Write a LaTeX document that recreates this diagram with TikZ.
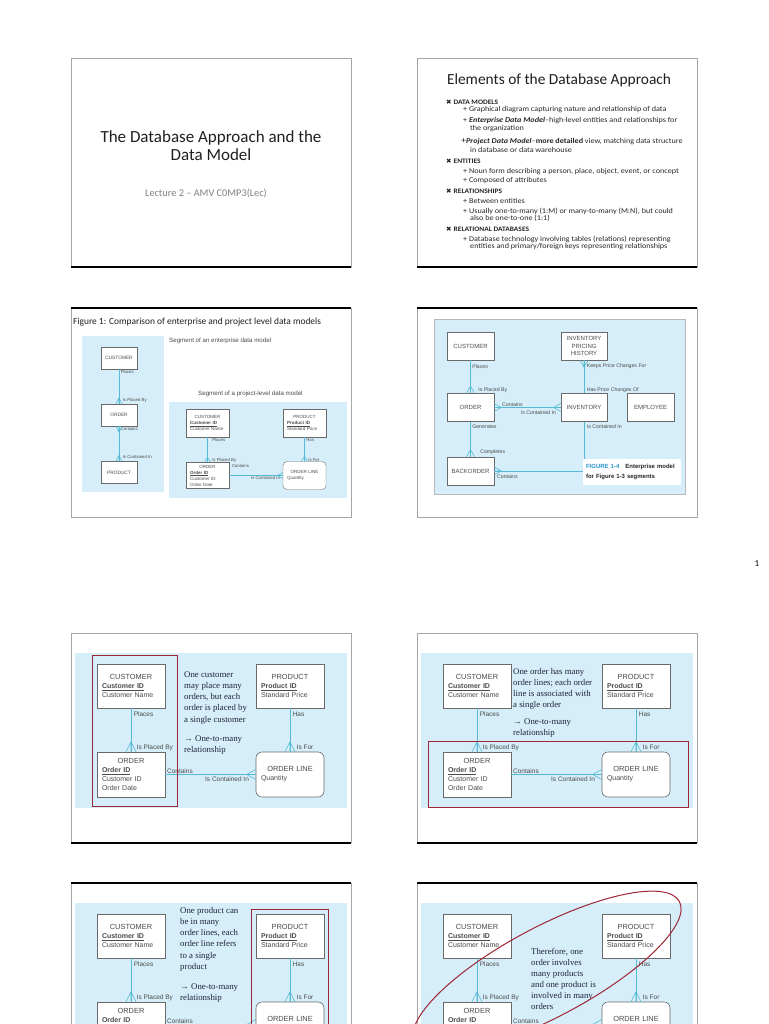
\documentclass[tikz,border=0pt]{standalone}
\usepackage{fontspec}
\setmainfont{Carlito}
\newfontfamily\arialfont{Liberation Sans}
\newfontfamily\timesfont{Liberation Serif}
\newfontfamily\dejavu{DejaVu Sans}
\newfontfamily\widecalibri[FakeStretch=1.1]{Carlito}
\usetikzlibrary{positioning, calc}

\definecolor{panelblue}{RGB}{214,238,249}
\definecolor{linecyan}{RGB}{86,186,212}
\definecolor{boxgray}{RGB}{105,105,105}
\definecolor{txtgray}{RGB}{75,75,75}
\definecolor{hired}{RGB}{158,38,52}
\definecolor{notenavy}{RGB}{30,34,60}
\definecolor{figblue}{RGB}{40,150,210}

\newcommand{\fsz}[2]{\fontsize{#1}{#2}\selectfont}
\newcommand{\ctr}[2]{\makebox[#1][c]{#2}}
\newcommand{\keyattr}[1]{\underline{\textbf{#1}}}
% crow's foot on a top/bottom edge and on a left/right edge
\newcommand{\crowv}[3]{\draw[rel] ([yshift=#2]#1) -- ([xshift=#3]#1) ([yshift=#2]#1) -- (#1) ([yshift=#2]#1) -- ([xshift=-#3]#1);}
\newcommand{\crowh}[3]{\draw[rel] ([xshift=#2]#1) -- ([yshift=#3]#1) ([xshift=#2]#1) -- (#1) ([xshift=#2]#1) -- ([yshift=-#3]#1);}

\tikzset{
  slide/.style={draw=gray!70, line width=0.9pt, fill=white},
  shadowline/.style={draw=black, line width=1.6pt},
  rel/.style={draw=linecyan, line width=0.6pt},
  erbox/.style={draw=boxgray, fill=white, line width=0.6pt, inner sep=0pt, text=txtgray},
  ent/.style={erbox, minimum width=68pt, minimum height=44pt, text width=58pt, align=left, font=\arialfont\fsz{7}{9}},
  ent3/.style={erbox, line width=0.4pt, minimum width=43pt, minimum height=28pt, text width=35pt, align=left, font=\arialfont\fsz{4.5}{6}},
  box3/.style={erbox, line width=0.4pt, minimum width=36pt, minimum height=22pt, font=\arialfont\fsz{4.8}{6}},
  box4/.style={erbox, minimum width=47pt, minimum height=28pt, align=center, font=\arialfont\fsz{6}{7.5}},
  lbl/.style={inner sep=0.5pt, text=txtgray, font=\arialfont\fsz{6.5}{7.5}},
  lbl3/.style={lbl, font=\arialfont\fsz{4.3}{5}},
  lbl4/.style={lbl, font=\arialfont\fsz{5.2}{6}},
  note/.style={anchor=north west, inner sep=0pt, align=left, text=notenavy, font=\timesfont\fsz{8.8}{11.3}},
  hilite/.style={draw=hired, line width=1pt},
  bodyline/.style={anchor=west, inner sep=0pt, text=black!85, font=\widecalibri\fsz{7.4}{8}},
  headline/.style={bodyline, font=\widecalibri\bfseries\fsz{6.8}{8}},
}

% the order entry diagram shared by the last four slides
\newcommand{\orderdiagram}[1]{%
  \fill[panelblue] (4,20) rectangle (276,175);
  \node[ent] (cust#1) at (60,53) {\ctr{58pt}{\fsz{7.4}{9}CUSTOMER}\\\keyattr{Customer ID}\\Customer Name};
  \node[ent] (prod#1) at (219,53) {\ctr{58pt}{\fsz{7.4}{9}PRODUCT}\\\keyattr{Product ID}\\Standard Price};
  \node[ent, minimum height=45pt] (ord#1) at (60,141.5) {\ctr{58pt}{\fsz{7.4}{9}ORDER}\\\keyattr{Order ID}\\Customer ID\\Order Date};
  \node[ent, minimum height=45pt, rounded corners=6pt] (line#1) at (219,141.5) {\ctr{58pt}{\fsz{7.4}{9}ORDER LINE}\\Quantity};
  \draw[rel] (cust#1) -- (ord#1) node[lbl, pos=0.14, right=2pt] (plc#1) {Places} node[lbl, pos=0.9, right=5pt] (ipb#1) {Is Placed By};
  \draw[rel] (prod#1) -- (line#1) node[lbl, pos=0.14, right=2pt] (has#1) {Has} node[lbl, pos=0.9, right=6pt] (isf#1) {Is For};
  \draw[rel] (ord#1) -- (line#1) node[lbl, pos=0, anchor=south west, xshift=1pt] (cnt#1) {Contains} node[lbl, pos=1, anchor=north east, xshift=-6pt, yshift=-1pt] (icn#1) {Is Contained In};
  \crowv{ord#1.north}{10pt}{5pt}
  \crowv{line#1.north}{10pt}{5pt}
  \crowh{line#1.west}{-9pt}{5pt}
}

\begin{document}
\begin{tikzpicture}[x=1pt, y=-1pt]
\path[use as bounding box] (0,0) rectangle (768,1024);
\clip (0,0) rectangle (768,1024);
\fill[white] (0,0) rectangle (768,1024);

% slide frames
\foreach \sx in {71,417}
  \foreach \sy in {58,308,633,883}
    \draw[slide] (\sx,\sy) rectangle ++(280,209);
\foreach \sx in {71,417} {
  \draw[shadowline] (\sx,267) -- ++(280,0);
  \draw[shadowline] (\sx,308) -- ++(280,0);
  \draw[shadowline] (\sx,843) -- ++(280,0);
  \draw[shadowline] (\sx,883) -- ++(280,0);
}
\node[font=\fsz{9}{10}] (pagenum) at (757,564) {1};

% slide 1
\node[align=center, text=black!88, font=\fsz{17}{18}] (ttl1) at (211,146) {The Database Approach and the\\Data Model};
\node[text=gray, font=\fsz{10.3}{12}] (sub1) at (206,193) {Lecture 2 – AMV C0MP3(Lec)};

% slide 2
\node[text=black!88, font=\fsz{15.4}{16}] (ttl2) at (559,80) {Elements of the Database Approach};
\foreach \yy/\txt [count=\i] in {102/DATA MODELS, 161/ENTITIES, 191/RELATIONSHIPS, 229/RELATIONAL DATABASES}
  \node[headline] (hd\i) at (446,\yy) {{\dejavu\fsz{6.5}{7}✖}\hspace{2pt}\txt};
\foreach \xx/\yy/\txt [count=\i] in {
  463/110/{+ Graphical diagram capturing nature and relationship of data},
  463/121/{+ \textbf{\textit{Enterprise Data Model}}–high-level entities and relationships for},
  470/129/{the organization},
  461/142/{{\fsz{9}{9}+}\textbf{\textit{Project Data Model}}–\textbf{more detailed} view, matching data structure},
  470/150/{in database or data warehouse},
  463/172/{+ Noun form describing a person, place, object, event, or concept},
  463/181/{+ Composed of attributes},
  463/201/{+ Between entities},
  463/211/{+ Usually one-to-many (1:M) or many-to-many (M:N), but could},
  470/218/{also be one-to-one (1:1)},
  463/239/{+ Database technology involving tables (relations) representing},
  470/247/{entities and primary/foreign keys representing relationships}}
  \node[bodyline] (it\i) at (\xx,\yy) {\txt};

% slide 3
\node[anchor=west, inner sep=0pt, text=black!88, font=\fsz{9.4}{10}] (ttl3) at (73,322) {Figure 1: Comparison of enterprise and project level data models};
\fill[panelblue] (82,336) rectangle (164,492);
\node[box3] (cust3a) at (119,358) {CUSTOMER};
\node[box3] (ord3a) at (119,415) {ORDER};
\node[box3] (prod3a) at (119,472.5) {PRODUCT};
\draw[rel] (cust3a) -- (ord3a) node[lbl3, pos=0.09, right=1pt] (plc3a) {Places} node[lbl3, pos=0.91, right=3pt] (ipb3a) {Is Placed By};
\draw[rel] (ord3a) -- (prod3a) node[lbl3, pos=0.08, right=1pt] (cnt3a) {Contains} node[lbl3, pos=0.89, right=3pt] (icn3a) {Is Contained In};
\crowv{ord3a.north}{6pt}{3pt}
\crowv{ord3a.south}{-6pt}{3pt}
\crowv{prod3a.north}{6pt}{3pt}
\node[anchor=west, inner sep=0pt, text=txtgray, font=\arialfont\fsz{6.2}{7}] (seg3a) at (169,341) {Segment of an enterprise data model};
\node[anchor=west, inner sep=0pt, text=txtgray, font=\arialfont\fsz{6.2}{7}] (seg3b) at (198,394) {Segment of a project-level data model};
\fill[panelblue] (169,402) rectangle (347,498);
\node[ent3] (cust3b) at (207.5,423) {\ctr{35pt}{CUSTOMER}\\\keyattr{Customer ID}\\Customer Name};
\node[ent3] (prod3b) at (304.5,423) {\ctr{35pt}{PRODUCT}\\\keyattr{Product ID}\\Standard Price};
\node[ent3, minimum height=26pt] (ord3b) at (207.5,475.5) {\ctr{35pt}{ORDER}\\\keyattr{Order ID}\\Customer ID\\Order Date};
\node[ent3, rounded corners=4pt] (line3b) at (304.5,475.5) {\ctr{35pt}{ORDER LINE}\\Quantity};
\draw[rel] (cust3b) -- (ord3b) node[lbl3, pos=0.12, right=4pt] (plc3b) {Places} node[lbl3, pos=0.94, right=4pt] (ipb3b) {Is Placed By};
\draw[rel] (prod3b) -- (line3b) node[lbl3, pos=0.12, right=1pt] (has3b) {Has} node[lbl3, pos=0.94, right=3pt] (isf3b) {Is For};
\draw[rel] (ord3b) -- (line3b) node[lbl3, pos=0, anchor=south west, xshift=2pt, yshift=7pt] (cnt3b) {Contains} node[lbl3, pos=1, anchor=north east, xshift=-2pt] (icn3b) {Is Contained In};
\crowv{ord3b.north}{5pt}{3pt}
\crowv{line3b.north}{5pt}{3pt}
\crowh{line3b.west}{-5pt}{3pt}

% slide 4
\draw[fill=panelblue, draw=gray!55, line width=0.8pt] (434,319) rectangle (685,494);
\node[box4] (cust4) at (470.5,346) {CUSTOMER};
\node[box4, minimum width=46pt] (iph4) at (584,346) {INVENTORY\\PRICING\\HISTORY};
\node[box4] (ord4) at (470.5,407.5) {ORDER};
\node[box4, minimum width=46pt] (inv4) at (584,407.5) {INVENTORY};
\node[box4] (emp4) at (650.5,407.5) {EMPLOYEE};
\node[box4] (back4) at (470.5,471) {BACKORDER};
\draw[rel] (cust4) -- (ord4) node[lbl4, pos=0.18, right=1pt] (plc4) {Places} node[lbl4, pos=0.91, right=7pt] (ipb4) {Is Placed By};
\draw[rel] (ord4) -- (inv4) node[lbl4, pos=0, anchor=south west, xshift=7pt] (cnt4) {Contains} node[lbl4, pos=1, anchor=north east, xshift=-4pt, yshift=-2pt] (icn4) {Is Contained In};
\draw[rel] (ord4) -- (back4) node[lbl4, pos=0.14, right=1pt] (gen4) {Generates} node[lbl4, pos=0.86, right=9pt] (cmp4) {Completes};
\draw[rel] (inv4) -- (iph4) node[lbl4, pos=0.09, right=2pt] (hpc4) {Has Price Changes Of} node[lbl4, pos=0.82, right=2pt] (kpc4) {Keeps Price Changes For};
\draw[rel] (inv4.south) |- (back4.east) node[lbl4, pos=0.05, right=2pt] (icb4) {Is Contained In} node[lbl4, pos=1, anchor=north west, xshift=2pt, yshift=-3pt] (cnb4) {Contains};
\crowv{ord4.north}{7pt}{4pt}
\crowh{ord4.east}{7pt}{4pt}
\crowh{inv4.west}{-7pt}{4pt}
\crowv{back4.north}{7pt}{4pt}
\crowv{iph4.south}{-7pt}{4pt}
\crowh{back4.east}{7pt}{4pt}
\node[fill=white, minimum width=98pt, minimum height=26pt, text width=92pt, align=left, inner sep=0pt, text=black!85, font=\arialfont\bfseries\fsz{6}{10}] (cap4) at (632,472) {{\color{figblue}FIGURE 1-4}\quad Enterprise model\\for Figure 1-3 segments};

% slide 5
\begin{scope}[shift={(71,633)}]
\orderdiagram{5}
\draw[hilite] (21,22) rectangle (106,173);
\node[note] (note5a) at (113,38) {One customer\\may place many\\orders, but each\\order is placed by\\a single customer};
\node[note] (note5b) at (113,102) {→ One-to-many\\relationship};
\end{scope}

% slide 6
\begin{scope}[shift={(417,633)}]
\orderdiagram{6}
\draw[hilite] (11,108) rectangle (271,174);
\node[note, font=\timesfont\fsz{8.8}{11.1}] (note6a) at (96,35) {One order has many\\order lines; each order\\line is associated with\\a single order};
\node[note, font=\timesfont\fsz{8.8}{11.1}] (note6b) at (96,85) {→ One-to-many\\relationship};
\end{scope}

% slide 7
\begin{scope}[shift={(71,883)}]
\orderdiagram{7}
\draw[hilite] (180,26) rectangle (257,173);
\node[note, font=\timesfont\fsz{8.8}{11.2}] (note7a) at (109,24) {One product can\\be in many\\order lines, each\\order line refers\\to a single\\product};
\node[note, font=\timesfont\fsz{8.8}{11.2}] (note7b) at (109,100) {→ One-to-many\\relationship};
\end{scope}

% slide 8
\begin{scope}[shift={(417,883)}]
\orderdiagram{8}
\node[note, font=\timesfont\fsz{8.8}{11.1}] (note8a) at (114,65) {Therefore, one\\order involves\\many products\\and one product is\\involved in many\\orders};
\end{scope}
\draw[hilite, rotate around={28:(547,972)}] (547,972) ellipse [x radius=150, y radius=45];
\end{tikzpicture}
\end{document}
